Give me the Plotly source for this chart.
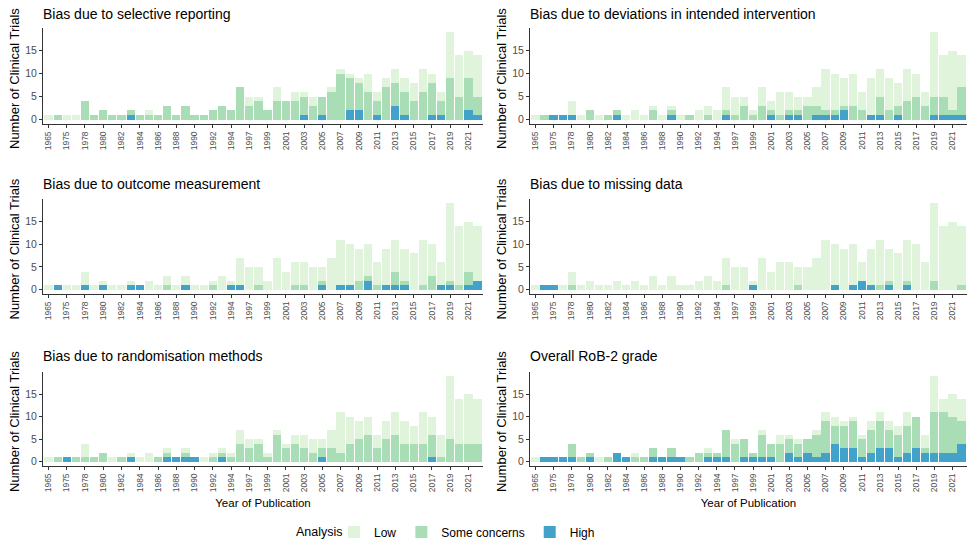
import plotly.graph_objects as go

# ---------------- data ----------------
years = [1965, 1970, 1975, 1977, 1978, 1979, 1980, 1981, 1982, 1983,
         1984, 1985, 1986, 1987, 1988, 1989, 1990, 1991, 1992, 1993,
         1994, 1996, 1997, 1998, 1999, 2000, 2001, 2002, 2003, 2004,
         2005, 2006, 2007, 2008, 2009, 2010, 2011, 2012, 2013, 2014,
         2015, 2016, 2017, 2018, 2019, 2020, 2021, 2022]
tick_years = [1965, 1975, 1978, 1980, 1982, 1984, 1986, 1988, 1990, 1992,
              1994, 1997, 1999, 2001, 2003, 2005, 2007, 2009, 2011, 2013,
              2015, 2017, 2019, 2021]

titles = ["Bias due to selective reporting",
          "Bias due to deviations in intended intervention",
          "Bias due to outcome measurement",
          "Bias due to missing data",
          "Bias due to randomisation methods",
          "Overall RoB-2 grade"]

sel_high = [0,0,0,0,0,0,0,0,0,1, 0,0,0,0,0,0,0,0,0,0, 0,0,0,0,0,0,0,0,1,0, 1,0,0,2,2,0,1,0,3,1, 0,0,1,1,0,0,2,1]
sel_sc   = [0,1,0,0,4,1,2,1,1,1, 1,1,1,3,1,3,1,1,2,3, 2,7,3,4,2,4,4,4,4,3, 4,6,10,7,6,6,3,7,5,5, 4,6,7,3,9,5,7,4]
sel_low  = [1,0,1,1,0,0,0,0,0,0, 0,1,0,0,0,0,0,0,0,0, 0,0,2,1,0,3,0,2,1,2, 0,1,1,1,1,4,2,2,3,3, 4,5,2,2,10,9,6,9]

dev_high = [0,0,1,1,1,0,0,0,0,1, 0,0,0,0,0,1,0,0,0,0, 0,1,0,0,0,0,1,0,1,1, 0,1,1,1,2,0,0,1,1,0, 1,0,0,0,1,1,1,1]
dev_sc   = [0,1,0,0,0,0,2,0,1,1, 0,0,0,2,0,1,0,1,0,1, 0,1,1,3,1,3,1,1,1,1, 3,2,1,1,1,3,2,0,4,2, 2,4,5,3,4,4,1,6]
dev_low  = [1,0,0,0,3,1,0,1,0,0, 1,2,1,1,1,1,1,0,2,2, 2,5,4,2,1,4,2,5,4,3, 2,4,9,8,6,7,4,8,6,7, 5,7,5,3,14,9,13,7]

out_high = [0,1,0,0,1,0,1,0,0,1, 1,0,0,0,0,1,0,0,0,0, 1,1,0,0,0,0,0,0,0,0, 1,0,1,1,0,2,0,1,1,1, 0,0,0,1,1,0,1,2]
out_sc   = [0,0,0,0,0,0,0,0,0,0, 0,0,0,1,0,0,0,0,1,0, 0,0,0,1,0,0,0,1,1,0, 1,0,0,0,2,1,1,0,3,1, 0,1,3,0,1,1,3,0]
out_low  = [1,0,1,1,3,1,1,1,1,1, 0,2,1,2,1,2,1,1,1,3, 1,6,5,4,2,7,4,5,5,5, 3,7,10,9,7,7,5,8,7,7, 8,10,7,5,17,13,11,12]

mis_high = [0,1,1,0,0,0,0,0,0,0, 0,0,0,0,0,0,0,0,0,0, 0,0,0,0,1,0,0,0,0,0, 0,0,0,1,0,1,2,1,0,1, 0,1,0,0,0,0,0,0]
mis_sc   = [0,0,0,0,1,0,0,0,0,0, 0,0,0,0,0,0,0,0,0,0, 0,1,0,0,0,0,0,0,0,1, 0,0,0,0,0,0,0,0,1,1, 0,1,0,0,2,0,0,1]
mis_low  = [1,0,0,1,3,1,2,1,1,2, 1,2,1,3,1,3,1,1,2,3, 2,6,5,5,1,7,4,6,6,4, 5,7,11,9,9,9,4,8,10,7, 8,9,10,6,17,14,15,13]

ran_high = [0,0,1,0,0,0,0,0,0,1, 0,0,0,1,1,1,1,0,0,1, 0,0,0,0,0,0,0,0,0,0, 1,0,0,0,0,0,0,0,0,0, 0,0,1,0,0,0,0,0]
ran_sc   = [0,1,0,1,1,1,2,0,1,0, 0,0,1,1,0,1,0,0,1,1, 1,4,3,4,1,6,3,4,3,2, 2,3,2,4,5,6,3,5,6,4, 4,4,5,1,5,4,4,4]
ran_low  = [1,0,0,0,3,0,0,1,0,1, 1,2,0,1,0,1,0,1,1,1, 1,3,2,1,1,1,1,2,3,3, 2,4,9,6,4,4,3,4,5,5, 4,7,4,5,14,10,11,10]

ovr_high = [0,1,1,1,1,0,1,0,0,2, 1,0,0,1,1,1,1,0,0,1, 1,1,0,1,1,1,1,0,2,1, 2,1,2,4,3,3,1,2,3,3, 1,2,3,2,2,2,2,4]
ovr_sc   = [0,0,0,0,3,1,1,0,1,0, 0,1,1,2,0,2,0,1,2,1, 1,6,4,4,1,5,3,4,3,3, 3,5,7,4,5,6,4,5,6,4, 5,6,7,1,9,9,8,5]
ovr_low  = [1,0,0,0,0,0,0,1,0,0, 0,1,0,0,0,0,0,0,0,1, 0,0,1,0,0,1,0,2,1,1, 0,1,2,2,1,1,1,2,2,2, 2,3,0,3,8,3,5,5]

panels = [(sel_high, sel_sc, sel_low), (dev_high, dev_sc, dev_low),
          (out_high, out_sc, out_low), (mis_high, mis_sc, mis_low),
          (ran_high, ran_sc, ran_low), (ovr_high, ovr_sc, ovr_low)]

colors = {"Low": "#e0f3db", "Some concerns": "#a8ddb5", "High": "#43a2ca"}

# ---------------- layout geometry (pixels) ----------------
W, H = 967, 544
col_px = [(43, 483), (530, 967)]
row_px = [(28, 124), (199, 294), (372, 466)]
title_y = [14, 184, 356]
ytitle_x = [14, 501]

def fx(p):
    return p / W

def fy(p):
    return 1 - p / H

xcats = [str(y) for y in years]
xticks = [str(y) for y in tick_years]

fig = go.Figure()
annotations = []
layout_axes = {}

for i, (hi, sc, lo) in enumerate(panels):
    n = i + 1
    r, c = divmod(i, 2)
    xa = "x" if n == 1 else f"x{n}"
    ya = "y" if n == 1 else f"y{n}"
    for name, vals in (("High", hi), ("Some concerns", sc), ("Low", lo)):
        fig.add_trace(go.Bar(
            x=xcats, y=vals, name=name, xaxis=xa, yaxis=ya,
            marker=dict(color=colors[name], line=dict(width=0)),
            legendgroup=name, showlegend=(i == 0),
            legendrank={"Low": 1, "Some concerns": 2, "High": 3}[name],
        ))
    x0, x1 = col_px[c]
    y0, y1 = row_px[r]
    xkey = "xaxis" if n == 1 else f"xaxis{n}"
    ykey = "yaxis" if n == 1 else f"yaxis{n}"
    layout_axes[xkey] = dict(
        domain=[fx(x0), fx(x1)], anchor=ya, type="category",
        categoryorder="array", categoryarray=xcats,
        range=[-0.6, len(xcats) - 0.4],
        tickmode="array", tickvals=xticks, ticktext=xticks,
        tickangle=-90, tickfont=dict(size=8.5, color="#4d4d4d"),
        showline=True, linecolor="#333333", linewidth=1,
        ticks="outside", ticklen=3, tickcolor="#333333",
        showgrid=False, zeroline=False, fixedrange=True, automargin=False,
        title=dict(text="Year of Publication" if r == 2 else "",
                   font=dict(size=11.5, color="#000000"), standoff=7),
    )
    layout_axes[ykey] = dict(
        domain=[fy(y1), fy(y0)], anchor=xa,
        range=[-0.95, 19.95], tickmode="array", tickvals=[0, 5, 10, 15],
        tickfont=dict(size=10.5, color="#4d4d4d"),
        showline=True, linecolor="#333333", linewidth=1,
        ticks="outside", ticklen=3, tickcolor="#333333",
        showgrid=False, zeroline=False, fixedrange=True, automargin=False,
    )
    annotations.append(dict(
        text=titles[i], x=fx(x0 - 2), y=fy(title_y[r]), xref="paper", yref="paper",
        xanchor="left", yanchor="middle", showarrow=False,
        font=dict(size=14, color="#000000"),
    ))
    annotations.append(dict(
        text="Number of Clinical Trials", x=fx(ytitle_x[c]), y=fy((y0 + y1) / 2 + 3),
        xref="paper", yref="paper", xanchor="center", yanchor="middle",
        textangle=-90, showarrow=False, font=dict(size=13, color="#000000"),
    ))

# legend title as text placed just left of the legend keys
annotations.append(dict(
    text="Analysis", x=fx(345), y=fy(532), xref="paper", yref="paper",
    xanchor="right", yanchor="middle", showarrow=False,
    font=dict(size=12.5, color="#000000"),
))

fig.update_layout(
    width=W, height=H, margin=dict(l=0, r=0, t=0, b=0, autoexpand=False),
    paper_bgcolor="white", plot_bgcolor="white",
    barmode="stack", bargap=0.1,
    font=dict(family="Liberation Sans, Arial, sans-serif"),
    annotations=annotations,
    legend=dict(
        orientation="h", x=fx(334), xanchor="left", y=fy(532), yanchor="middle",
        font=dict(size=12, color="#000000"), itemwidth=30,
        traceorder="normal", bgcolor="rgba(0,0,0,0)",
    ),
    **layout_axes,
)

fig.write_html(
    "out.html",
    config={"displayModeBar": False},
    post_script="document.body.style.margin='0';document.body.style.padding='0';"
                "document.body.style.overflow='hidden';",
)
